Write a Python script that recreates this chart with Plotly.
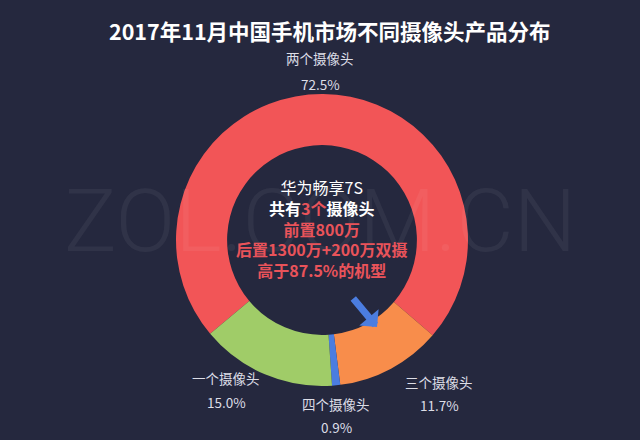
import plotly.graph_objects as go

# Share of phones by number of cameras, Nov 2017 (clockwise order from the top slice)
camera_labels = ["两个摄像头", "三个摄像头", "四个摄像头", "一个摄像头"]
camera_shares = [72.5, 11.7, 0.9, 15.0]
slice_colors = ["#f25557", "#f88d4b", "#4b7de0", "#a0cc68"]

title_text = "2017年11月中国手机市场不同摄像头产品分布"
phone_name = "华为畅享7S"
camera_count = "3个"
front_cam = "前置800万"
rear_cam = "后置1300万+200万双摄"
rank_note = "高于87.5%的机型"

# Label anchor points (paper px from top-left) for name / percentage
label_pos = [(320, 58, 84), (439, 382, 405), (336, 404, 427), (226, 378, 402)]

W, H = 640, 440
BG = "#25283e"
HL = "#e9535a"
FONT = "Noto Sans CJK SC"

fig = go.Figure()
fig.add_trace(go.Pie(
    labels=camera_labels,
    values=camera_shares,
    sort=False,
    direction="clockwise",
    rotation=230,
    hole=0.65,
    marker=dict(colors=slice_colors, line=dict(width=0)),
    textinfo="none",
    hoverinfo="label+percent",
    showlegend=False,
    domain=dict(x=[176 / W, 468 / W], y=[(H - 386) / H, (H - 94) / H]),
))

def px(x, y):
    return x / W, (H - y) / H

annotations = []

def note(x, y, text, **kw):
    xp, yp = px(x, y)
    d = dict(x=xp, y=yp, xref="paper", yref="paper", showarrow=False,
             xanchor="center", yanchor="middle", text=text)
    d.update(kw)
    annotations.append(d)

# faint site watermark across the middle
note(320, 220, "ZOL.COM.CN",
     font=dict(family="Roboto", size=88, color="rgba(255,255,255,0.055)", weight=300))

for name, share, (lx, ny, vy) in zip(camera_labels, camera_shares, label_pos):
    note(lx, ny, name, font=dict(family=FONT, size=13.5, color="#dcdde6"))
    note(lx, vy, f"{share:.1f}%", font=dict(family=FONT, size=13.5, color="#dcdde6"))

# centre callout
center_html = (
    f"{phone_name}<br>"
    f"<b>共有<span style='color:{HL}'>{camera_count}</span>摄像头</b><br>"
    f"<b><span style='color:{HL}'>{front_cam}</span></b><br>"
    f"<b><span style='color:{HL}'>{rear_cam}</span></b><br>"
    f"<b><span style='color:{HL}'>{rank_note}</span></b>"
)
note(322, 228, center_html, align="center",
     font=dict(family=FONT, size=16, color="#ffffff"))

# pointer arrow into the three-camera slice
ax_, ay_ = px(377, 327)
annotations.append(dict(x=ax_, y=ay_, xref="paper", yref="paper", text="",
                        showarrow=True, ax=-25, ay=-30, arrowhead=1,
                        arrowwidth=7, arrowsize=0.6, arrowcolor="#4b7de0"))

note(330, 30, f"<b>{title_text}</b>",
     font=dict(family=FONT, size=21.5, color="#ffffff"))

fig.update_layout(
    width=W, height=H,
    margin=dict(l=0, r=0, t=0, b=0),
    paper_bgcolor=BG, plot_bgcolor=BG,
    annotations=annotations,
)

fig.write_html("out.html")
